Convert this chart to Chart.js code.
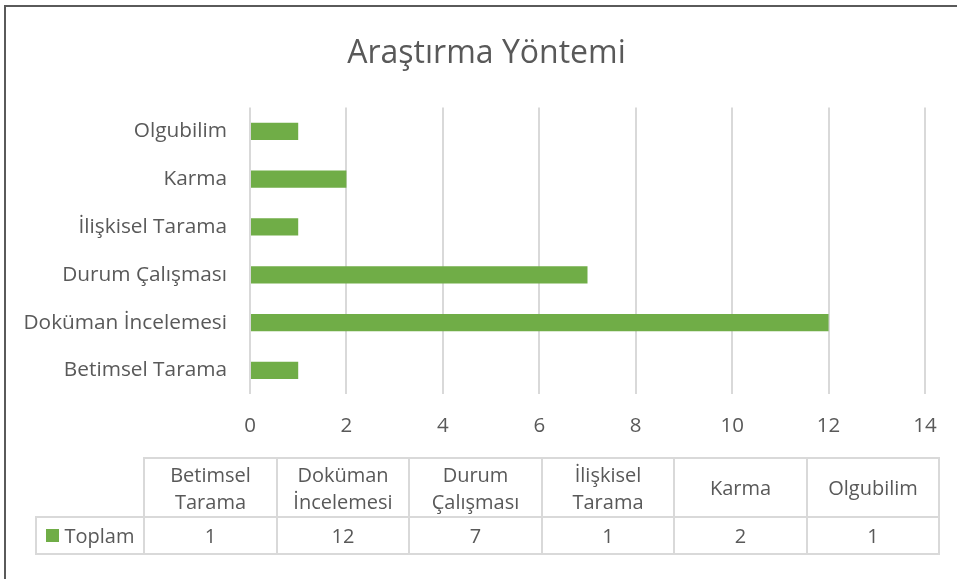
<!DOCTYPE html>
<html>
<head>
<meta charset="utf-8">
<script src="https://cdn.jsdelivr.net/npm/chart.js@4"></script>
<style>
  body { margin: 0; overflow: hidden; background: #fff; }
  #wrap { position: relative; width: 957px; height: 579px; overflow: hidden; font-family: "Open Sans", sans-serif; color: #595959; }
  #frame { position: absolute; left: 4px; top: 5px; width: 2000px; height: 2000px; border: 2px solid #5a5a5a; }
  #chartBox { position: absolute; left: 0; top: 0; width: 957px; height: 579px; }
  .cell { position: absolute; box-sizing: border-box; border: 2px solid #d9d9d9; display: flex; align-items: center; justify-content: center; text-align: center; font-size: 20px; line-height: 27px; }
  .swatch { display: inline-block; width: 13px; height: 13px; background: #70ad47; margin-right: 6px; }
</style>
</head>
<body>
<div id="wrap">
  <div id="frame"></div>
  <div id="chartBox"><canvas id="myChart"></canvas></div>
  <div id="table"></div>
</div>
<script>
//* Data, same order as the data table
const categories = ['Betimsel Tarama', 'Doküman İncelemesi', 'Durum Çalışması', 'İlişkisel Tarama', 'Karma', 'Olgubilim'];
const toplam = [1, 12, 7, 1, 2, 1];
const seriesName = 'Toplam';
const chartTitle = 'Araştırma Yöntemi';

const textColor = '#595959';
const font = 'Open Sans';

//* the excel title sits a bit right of the middle, so move the title box
const shiftTitle = {
    id: 'shiftTitle',
    afterLayout(chart) {
        if (chart.titleBlock) {
            chart.titleBlock.left = 48;
            chart.titleBlock.right = 925;
        }
    }
};

let barChartConfig = {
    type: 'bar',
    data: {
        labels: categories,
        datasets: [{
            label: seriesName,
            data: toplam,
            backgroundColor: '#70ad47',
            barPercentage: 0.36,
            categoryPercentage: 1
        }]
    },
    options: {
        indexAxis: 'y',
        responsive: true,
        maintainAspectRatio: false,
        animation: false,
        layout: {
            padding: { left: 0, right: 32, top: 0, bottom: 122 }
        },
        scales: {
            x: {
                min: 0,
                max: 14,
                ticks: { stepSize: 2, padding: 19, color: textColor, font: { family: font, size: 20.5 } },
                grid: { color: '#d9d9d9', lineWidth: 2, drawTicks: false },
                border: { display: false }
            },
            y: {
                reverse: true,
                ticks: { padding: 15, color: textColor, font: { family: font, size: 20.8 } },
                grid: { display: false },
                border: { display: false },
                afterFit: (scale) => { scale.width = 250; }
            }
        },
        plugins: {
            legend: { display: false },
            tooltip: { enabled: false },
            title: {
                display: true,
                text: chartTitle,
                color: textColor,
                font: { family: font, size: 32, weight: 'normal' },
                padding: { top: 35, bottom: 34 }
            }
        }
    },
    plugins: [shiftTitle]
};

function UpdateChart(chartDOM = "myChart") {
    const ctx = document.getElementById(chartDOM);
    new Chart(ctx, barChartConfig);
}

//* data table under the chart, like Excel's
function BuildTable() {
    const table = document.getElementById('table');
    const left = 143, colW = 132.5, top = 457, headH = 59, rowH = 37, legendLeft = 35;

    function addCell(x, y, w, h, html) {
        const d = document.createElement('div');
        d.className = 'cell';
        d.style.left = x + 'px';
        d.style.top = y + 'px';
        d.style.width = (w + 2) + 'px';
        d.style.height = (h + 2) + 'px';
        d.innerHTML = html;
        table.appendChild(d);
    }

    categories.forEach((c, i) => {
        const x = Math.round(left + i * colW);
        const w = Math.round(left + (i + 1) * colW) - x;
        addCell(x, top, w, headH, '<div style="padding:0 6px">' + c + '</div>');
        addCell(x, top + headH, w, rowH, String(toplam[i]));
    });
    addCell(legendLeft, top + headH, left - legendLeft, rowH, '<span class="swatch"></span>' + seriesName);
}

BuildTable();
UpdateChart();
</script>
</body>
</html>
